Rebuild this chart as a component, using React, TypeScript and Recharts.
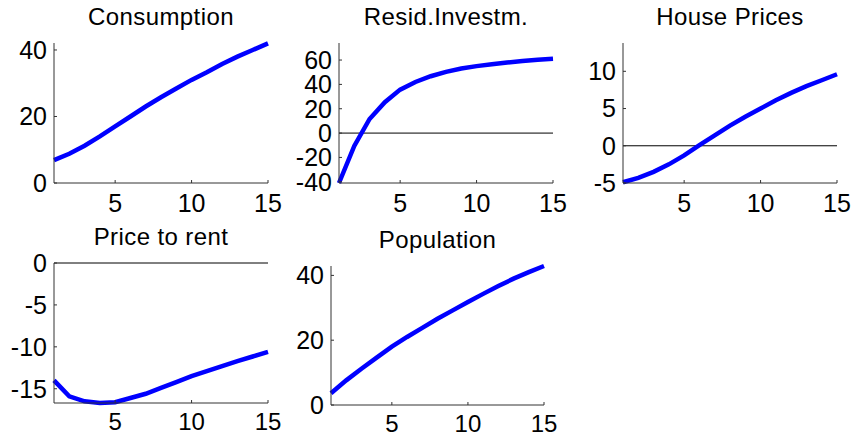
import React from 'react';
import { LineChart, Line, XAxis, YAxis, ReferenceLine } from 'recharts';

const periods = [1, 2, 3, 4, 5, 6, 7, 8, 9, 10, 11, 12, 13, 14, 15];
const xTicks = [5, 10, 15];

const consumption = [6.9, 8.8, 11.2, 14.0, 17.0, 20.0, 23.0, 25.8, 28.4, 31.0, 33.3, 35.8, 38.0, 40.0, 42.0];
const residInvestment = [-41, -10.5, 11.6, 25.4, 35.7, 42.0, 46.7, 50.3, 53.1, 55.0, 56.6, 58.0, 59.2, 60.2, 61.0];
const housePrices = [-4.9, -4.3, -3.5, -2.5, -1.3, 0.1, 1.4, 2.7, 3.9, 5.0, 6.1, 7.1, 8.0, 8.8, 9.6];
const priceToRent = [-14.0, -15.9, -16.5, -16.7, -16.6, -16.1, -15.6, -14.9, -14.2, -13.5, -12.9, -12.3, -11.7, -11.15, -10.6];
const population = [3.6, 7.6, 11.2, 14.6, 18.0, 21.0, 23.8, 26.6, 29.2, 31.8, 34.3, 36.7, 39.0, 41.0, 42.9];

const FONT = '"Liberation Sans", Arial, sans-serif';
const AXIS_W = 60;
const TOP_PAD = 14;
const RIGHT_PAD = 24;

interface PanelProps {
  title: string;
  values: number[];
  domain: [number, number];
  yTicks: number[];
  left: number;
  top: number;
  plotW: number;
  plotH: number;
  axisH: number;
  zeroLine?: boolean;
}

function Panel({ title, values, domain, yTicks, left, top, plotW, plotH, axisH, zeroLine }: PanelProps) {
  const data = periods.map((p, i) => ({ period: p, value: values[i] }));
  const tick = { fontSize: 25, fill: '#000', fontFamily: FONT };
  const xTick = { fontSize: axisH < 36 ? 24 : 25, fill: '#000', fontFamily: FONT };
  return (
    <>
      <div
        style={{
          position: 'absolute',
          left,
          top: top - 38,
          width: plotW,
          textAlign: 'center',
          fontFamily: FONT,
          fontSize: 24,
          lineHeight: '24px',
          letterSpacing: 0.4,
          color: '#000',
          whiteSpace: 'nowrap',
        }}
      >
        {title}
      </div>
      <div style={{ position: 'absolute', left: left - AXIS_W, top: top - TOP_PAD }}>
        <LineChart
          width={AXIS_W + plotW + RIGHT_PAD}
          height={TOP_PAD + plotH + axisH}
          data={data}
          margin={{ top: TOP_PAD, right: RIGHT_PAD, left: 0, bottom: 0 }}
        >
          <XAxis
            dataKey="period"
            type="number"
            domain={[1, 15]}
            ticks={xTicks}
            tick={xTick}
            tickSize={-3}
            tickMargin={axisH < 36 ? 13 : 14}
            height={axisH}
            stroke="#333"
            interval={0}
          />
          <YAxis
            type="number"
            domain={domain}
            ticks={yTicks}
            tick={tick}
            tickSize={-3}
            tickMargin={10}
            width={AXIS_W}
            stroke="#333"
            interval={0}
          />
          {zeroLine && <ReferenceLine y={0} stroke="#000" strokeWidth={1} />}
          <Line
            type="linear"
            dataKey="value"
            stroke="#0000ff"
            strokeWidth={4.5}
            dot={false}
            isAnimationActive={false}
          />
        </LineChart>
      </div>
    </>
  );
}

export default function App() {
  return (
    <div style={{ position: 'absolute', left: 0, top: 0, width: 853, height: 437, background: '#fff', overflow: 'hidden' }}>
      <Panel title="Consumption" values={consumption} domain={[0, 42.1]} yTicks={[0, 20, 40]} left={54} top={43} plotW={214} plotH={140} axisH={40} />
      <Panel title="Resid.Investm." values={residInvestment} domain={[-41, 74]} yTicks={[-40, -20, 0, 20, 40, 60]} left={339} top={43} plotW={214} plotH={140} axisH={40} zeroLine />
      <Panel title="House Prices" values={housePrices} domain={[-5, 13.8]} yTicks={[-5, 0, 5, 10]} left={623} top={43} plotW={214} plotH={140} axisH={40} zeroLine />
      <Panel title="Price to rent" values={priceToRent} domain={[-16.7, 0]} yTicks={[-15, -10, -5, 0]} left={54} top={263} plotW={214} plotH={140} axisH={34} zeroLine />
      <Panel title="Population" values={population} domain={[0, 42.9]} yTicks={[0, 20, 40]} left={331} top={266} plotW={213} plotH={139} axisH={32} />
    </div>
  );
}
